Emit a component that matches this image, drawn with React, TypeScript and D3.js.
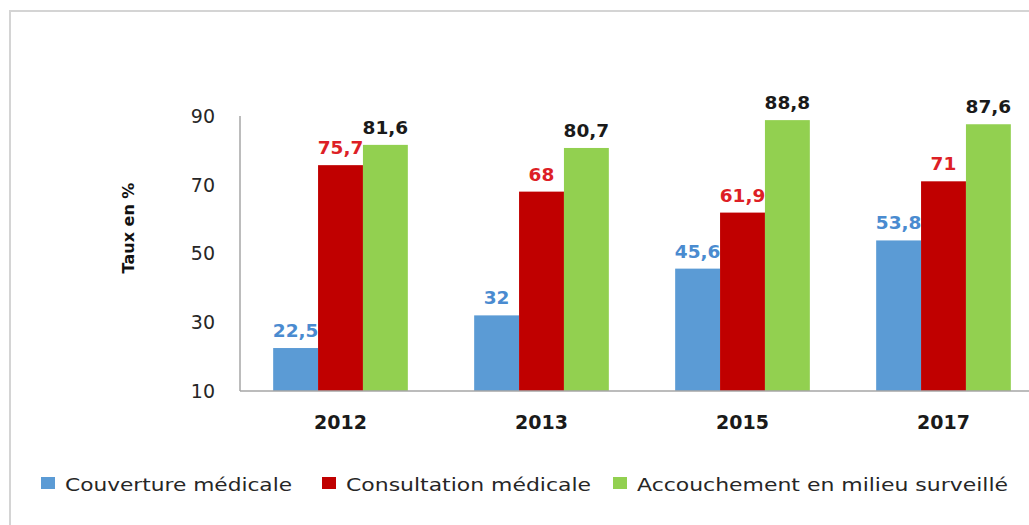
import React from 'react';
import * as d3 from 'd3';

const width = 1029;
const height = 525;

const years = ['2012', '2013', '2015', '2017'];
const seriesNames = ['Couverture médicale', 'Consultation médicale', 'Accouchement en milieu surveillé'];
const couverture = [22.5, 32, 45.6, 53.8];
const consultation = [75.7, 68, 61.9, 71];
const accouchement = [81.6, 80.7, 88.8, 87.6];
const yTicks = [10, 30, 50, 70, 90];

const barColors = ['#5b9bd5', '#c00000', '#92d050'];
const labelColors = ['#4a8bd0', '#dd1f26', '#1a1a1a'];
// legend item positions and the stretched text widths seen in the picture
const legendX = [41, 322, 613];
const legendTextW = [227, 245, 371];

const series = [couverture, consultation, accouchement];

const x0 = d3.scaleBand().domain(years).range([240, 1044]).paddingInner(0.33).paddingOuter(0.165);
const x1 = d3.scaleBand().domain(['0', '1', '2']).range([0, x0.bandwidth()]);
const y = d3.scaleLinear().domain([10, 90]).range([391, 116]);

const fmt = (v: number) => String(v).replace('.', ',');
const font = '"DejaVu Sans", Verdana, sans-serif';

const App = () => (
  <svg width={width} height={height} style={{ position: 'absolute', left: 0, top: 0, background: '#fff' }} fontFamily={font}>
    <rect x={10} y={11} width={1040} height={540} fill="none" stroke="#d4d4d4" strokeWidth={2} />

    {/* y axis */}
    <line x1={240} x2={240} y1={y(90)} y2={y(10)} stroke="#a6a6a6" strokeWidth={1.5} />
    {yTicks.map(t => (
      <text key={t} x={215} y={y(t)} dy="0.36em" textAnchor="end" fontSize={19} fill="#262626">{t}</text>
    ))}
    <text transform={`translate(134,228) rotate(-90)`} textAnchor="middle" fontSize={16} fontWeight="bold" fill="#111">Taux en %</text>

    {/* bars */}
    {years.map((yr, i) => (
      <g key={yr} transform={`translate(${x0(yr)},0)`}>
        {series.map((s, j) => {
          const bx = x1(String(j))!;
          return (
            <g key={j}>
              <rect x={bx} y={y(s[i])} width={x1.bandwidth()} height={y(10) - y(s[i])} fill={barColors[j]} />
              <text x={bx + x1.bandwidth() / 2} y={y(s[i]) - 11} textAnchor="middle" fontSize={18.5} fontWeight="bold" fill={labelColors[j]}>{fmt(s[i])}</text>
            </g>
          );
        })}
        <text x={x0.bandwidth() / 2} y={429} textAnchor="middle" fontSize={19} fontWeight="bold" fill="#1a1a1a">{yr}</text>
      </g>
    ))}
    <line x1={240} x2={width} y1={y(10)} y2={y(10)} stroke="#a6a6a6" strokeWidth={1.5} />

    {/* legend */}
    {seriesNames.map((n, j) => (
      <g key={n} transform={`translate(${legendX[j]},477)`}>
        <rect x={0} y={0} width={14} height={12} fill={barColors[j]} />
        <text x={24} y={14} fontSize={18} fill="#262626" textLength={legendTextW[j]} lengthAdjust="spacingAndGlyphs">{n}</text>
      </g>
    ))}
  </svg>
);

export default App;
